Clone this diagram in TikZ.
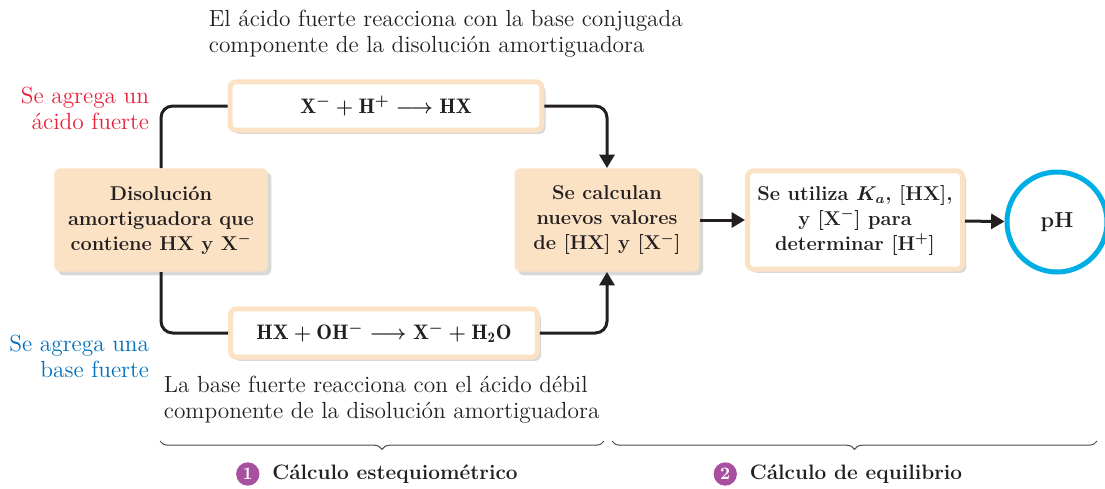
\documentclass[tikz,border=0pt]{standalone}
\usepackage{fontspec}
\usetikzlibrary{positioning,shadows,arrows.meta,decorations.pathreplacing}

\definecolor{peach}{RGB}{252,226,196}
\definecolor{inkline}{RGB}{35,31,32}
\definecolor{addred}{RGB}{232,32,58}
\definecolor{addblue}{RGB}{0,112,186}
\definecolor{phcyan}{RGB}{0,174,230}
\definecolor{numpurple}{RGB}{168,80,160}

\begin{document}
\begin{tikzpicture}[
  x=0.6pt, y=-0.6pt,
  every node/.style={text=inkline, font=\fontsize{12}{15}\selectfont},
  peachbox/.style={fill=peach, rounded corners=3.5pt, align=center, inner sep=3pt,
    minimum height=62pt, font=\fontsize{12}{15}\selectfont\bfseries\boldmath,
    drop shadow={shadow xshift=2.2pt, shadow yshift=-2.2pt, fill=black!30, opacity=0.5}},
  whitebox/.style={peachbox, fill=white, draw=peach, line width=3pt},
  rxbox/.style={whitebox, minimum height=29pt, font=\fontsize{12.6}{15}\selectfont\bfseries\boldmath},
  conn/.style={draw=inkline, line width=1.8pt, rounded corners=7pt},
  tip/.style={-{Triangle[length=8pt,width=9pt]}},
  note/.style={align=left, anchor=west, font=\fontsize{14}{15.6}\selectfont},
  brace/.style={draw=inkline!80, line width=0.6pt,
    decorate, decoration={brace, mirror, amplitude=5pt}},
  stage/.style={font=\fontsize{12.5}{15}\selectfont\bfseries},
  numdot/.style={circle, fill=numpurple, text=white, inner sep=0pt, minimum size=14pt,
    font=\fontsize{10.5}{10.5}\selectfont\bfseries}
]
\useasboundingbox (0,0) rectangle (1105,488);

% boxes
\node[peachbox, minimum width=128pt] (buffer) at (161,220)
  {Disolución\\amortiguadora que\\contiene HX y X$^-$};
\node[rxbox, minimum width=187pt] (acidrx) at (386,106)
  {$\mathrm{X^-} + \mathrm{H^+} \longrightarrow \mathrm{HX}$};
\node[rxbox, minimum width=184pt] (baserx) at (384,333)
  {$\mathrm{HX} + \mathrm{OH^-} \longrightarrow \mathrm{X^-} + \mathrm{H_2O}$};
\node[peachbox, minimum width=111pt] (newconc) at (607,220)
  {Se calculan\\nuevos valores\\de [HX] y [X$^-$]};
\node[whitebox, minimum width=129pt, minimum height=59pt] (equil) at (855,220)
  {Se utiliza $K_a$, [HX],\\y [X$^-$] para\\determinar [H$^+$]};
\node[circle, draw=phcyan, line width=3pt, minimum size=60pt,
  font=\fontsize{13}{15}\selectfont\bfseries] (ph) at (1057,222) {pH};

% connectors
\draw[conn] (buffer.north) |- (acidrx.west);
\draw[conn] (buffer.south) |- (baserx.west);
\draw[conn, tip] (acidrx.east) -| (newconc.north);
\draw[conn, tip] (baserx.east) -| (newconc.south);
\draw[conn, tip] (newconc) -- (equil);
\draw[conn, tip] (equil) -- (ph);

% notes
\node[note] (acidnote) at (203,34)
  {El ácido fuerte reacciona con la base conjugada\\componente de la disolución amortiguadora};
\node[note] (basenote) at (158,400)
  {La base fuerte reacciona con el ácido débil\\componente de la disolución amortiguadora};
\node[note, anchor=east, align=right, text=addred] (addacid) at (155,108)
  {Se agrega un\\ácido fuerte};
\node[note, anchor=east, align=right, text=addblue] (addbase) at (155,356)
  {Se agrega una\\base fuerte};

% braces and stages
\coordinate (stoichL) at (160,441);
\coordinate (stoichR) at (604,441);
\coordinate (equilL) at (612,441);
\coordinate (equilR) at (1097,441);
\draw[brace] (stoichL) -- (stoichR);
\draw[brace] (equilL) -- (equilR);
\node[stage] (stoich) at (395,474) {Cálculo estequiométrico};
\node[numdot, left=4pt of stoich] (numA) {1};
\node[stage] (equilstage) at (856,474) {Cálculo de equilibrio};
\node[numdot, left=4pt of equilstage] (numB) {2};
\end{tikzpicture}
\end{document}
